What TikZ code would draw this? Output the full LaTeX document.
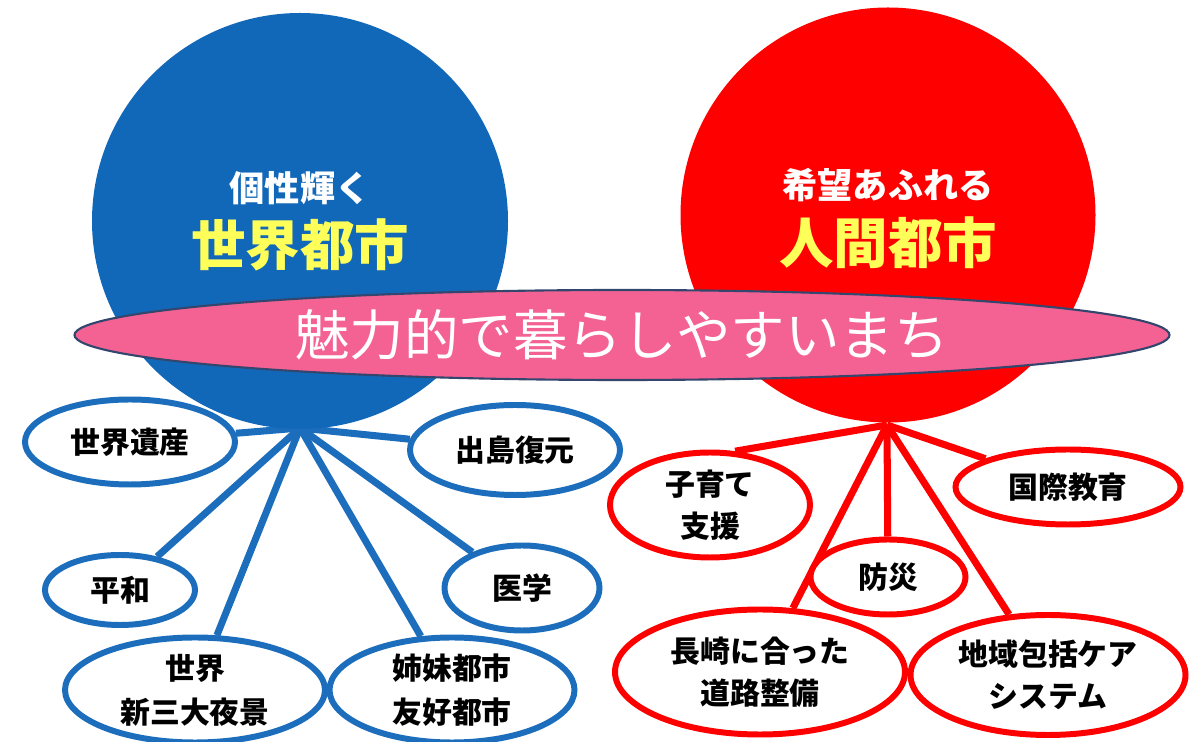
\documentclass[tikz,border=0pt]{standalone}
\usepackage{fontspec}
\usepackage{xcolor}
\usepackage{tikz}
\usetikzlibrary{shapes.geometric,backgrounds}
\newfontfamily\jp{Noto Sans CJK JP}
\definecolor{cityblue}{RGB}{18,104,184}
\definecolor{linkblue}{RGB}{28,110,188}
\definecolor{cityred}{RGB}{255,0,0}
\definecolor{cityyellow}{RGB}{255,255,90}
\definecolor{charmpink}{RGB}{244,98,148}
\definecolor{charmedge}{RGB}{50,70,110}

\begin{document}
\begin{tikzpicture}[every node/.style={text centered, font=\jp},
    bluebub/.style={ellipse, draw=linkblue, line width=3.4pt, fill=white, inner sep=0pt, align=center, font=\jp\bfseries\fontsize{17}{25}\selectfont},
    redbub/.style={ellipse, draw=cityred, line width=3.4pt, fill=white, inner sep=0pt, align=center, font=\jp\bfseries\fontsize{17}{24}\selectfont},
    bluelink/.style={draw=linkblue, line width=4pt},
    redlink/.style={draw=cityred, line width=4pt}]
    \useasboundingbox (0,0) rectangle (23.9,14.84);

    \node[circle, fill=cityblue, minimum size=8.32cm] (world) at (6.0,10.42) {};
    \node[circle, fill=cityred, minimum size=8.3cm] (human) at (17.76,10.54) {};
    \node[text=white, font=\jp\bfseries\fontsize{20}{24}\selectfont] (worldsub) at (6.0,11.08) {個性輝く};
    \node[text=cityyellow, font=\jp\bfseries\fontsize{31}{36}\selectfont] (worldtitle) at (6.0,9.94) {世界都市};
    \node[text=white, font=\jp\bfseries\fontsize{20}{24}\selectfont] (humansub) at (17.76,11.14) {希望あふれる};
    \node[text=cityyellow, font=\jp\bfseries\fontsize{31}{36}\selectfont] (humantitle) at (17.76,9.98) {人間都市};

    \node[ellipse, fill=charmpink, draw=charmedge, line width=1.2pt, minimum width=21.9cm, minimum height=1.8cm, text=white, font=\jp\fontsize{31}{36}\selectfont] (charm) at (12.44,8.14) {魅力的で暮らしやすいまち};

    \coordinate (bhub) at (6.0,6.28);
    \coordinate (rhub) at (17.74,6.34);

    % world city side
    \node[bluebub, minimum width=4.2cm, minimum height=1.7cm] (heritage) at (2.6,6.0) {世界遺産};
    \node[bluebub, minimum width=4.2cm, minimum height=1.8cm] (dejima) at (10.3,5.84) {出島復元};
    \node[bluebub, minimum width=3.0cm, minimum height=1.4cm] (peace) at (2.4,3.04) {平和};
    \node[bluebub, minimum width=3.1cm, minimum height=1.7cm] (medicine) at (10.44,3.08) {医学};
    \node[bluebub, minimum width=5.2cm, minimum height=2.1cm] (nightview) at (3.9,1.04) {世界\\新三大夜景};
    \node[bluebub, minimum width=4.9cm, minimum height=2.1cm] (sister) at (9.04,1.04) {姉妹都市\\友好都市};

    % human city side
    \node[redbub, minimum width=4.0cm, minimum height=2.1cm] (kosodate) at (14.2,4.74) {子育て\\支援};
    \node[redbub, minimum width=4.5cm, minimum height=1.5cm] (intl) at (21.36,5.1) {国際教育};
    \node[redbub, minimum width=3.1cm, minimum height=1.5cm] (bousai) at (17.76,3.3) {防災};
    \node[redbub, minimum width=5.8cm, minimum height=2.5cm] (road) at (15.2,1.4) {長崎に合った\\道路整備};
    \node[redbub, minimum width=5.5cm, minimum height=2.4cm] (care) at (20.96,1.34) {地域包括ケア\\システム};

    \begin{scope}[on background layer]
        \foreach \leaf in {heritage, dejima, peace, medicine, nightview, sister}
            \draw[bluelink] (bhub) -- (\leaf);
        \draw[redlink] (rhub) -- (kosodate.65);
        \foreach \leaf in {intl, bousai, road, care}
            \draw[redlink] (rhub) -- (\leaf);
    \end{scope}
\end{tikzpicture}
\end{document}
